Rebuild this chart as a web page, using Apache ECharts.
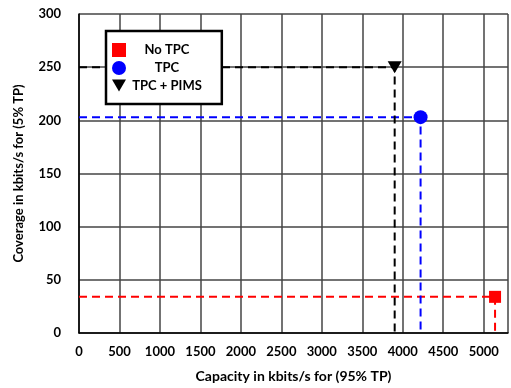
<!DOCTYPE html>
<html><head><meta charset="utf-8">
<script src="https://cdn.jsdelivr.net/npm/echarts@6/dist/echarts.min.js"></script>
<style>html,body{margin:0;padding:0;background:#fff}#c{width:511px;height:388px}</style>
</head><body><div id="c"></div>
<script>
var seriesNames = ['No TPC', 'TPC', 'TPC + PIMS'];
var capacity = [5140, 4220, 3900];
var coverage = [34, 203, 250];
var colors = ['#ff0000', '#0000ff', '#000000'];
var symbols = ['rect', 'circle', 'path://M0,0 L14,0 L7,12 Z'];
var symbolSizes = [12, 14, [14, 12]];
var xTicks = [0, 500, 1000, 1500, 2000, 2500, 3000, 3500, 4000, 4500, 5000];
var yTicks = [0, 50, 100, 150, 200, 250, 300];

var font = 'Lato';
var series = [];
for (var i = 0; i < seriesNames.length; i++) {
  series.push({
    type: 'line', name: seriesNames[i] + ' guide', silent: true, symbol: 'none',
    data: [[0, coverage[i]], [capacity[i], coverage[i]], [capacity[i], 0]],
    lineStyle: { color: colors[i], width: 2, type: [8, 5] }, z: 3
  });
}
for (var j = 0; j < seriesNames.length; j++) {
  series.push({
    type: 'scatter', name: seriesNames[j],
    data: [[capacity[j], coverage[j]]],
    symbol: symbols[j], symbolSize: symbolSizes[j],
    itemStyle: { color: colors[j], opacity: 1 }, z: 5
  });
}
var chart = echarts.init(document.getElementById('c'));
chart.setOption({
  animation: false,
  grid: { left: 79, top: 14, right: 1, bottom: 51 },
  legend: {
    data: seriesNames, orient: 'vertical', left: 106, top: 31,
    padding: [12, 20, 12, 6], itemGap: 4, itemWidth: 14, itemHeight: 14,
    backgroundColor: '#fff', borderColor: '#000', borderWidth: 2.5,
    formatter: '{a|{name}}',
    textStyle: { fontFamily: font, fontWeight: 'bold', fontSize: 13, color: '#000',
      rich: { a: { width: 72, align: 'center', fontFamily: font, fontWeight: 'bold', fontSize: 13 } } }
  },
  xAxis: {
    type: 'value', min: 0, max: 5300, interval: 500,
    name: 'Capacity in kbits/s for (95% TP)', nameLocation: 'middle', nameGap: 36,
    nameTextStyle: { fontFamily: font, fontWeight: 'bold', fontSize: 14, color: '#000' },
    axisLine: { show: true, lineStyle: { color: '#000', width: 1.5 } },
    axisTick: { show: false },
    axisLabel: { fontFamily: font, fontWeight: 'bold', fontSize: 13, color: '#000', margin: 12,
      formatter: function (v) { return xTicks.indexOf(v) >= 0 ? String(v) : ''; } },
    splitLine: { show: true, lineStyle: { color: '#444', width: 1.5 } }
  },
  yAxis: {
    type: 'value', min: 0, max: 300, interval: 50,
    name: 'Coverage in kbits/s for (5% TP)', nameLocation: 'middle', nameGap: 54,
    nameTextStyle: { fontFamily: font, fontWeight: 'bold', fontSize: 13, color: '#000' },
    axisLine: { show: true, lineStyle: { color: '#000', width: 1.5 } },
    axisTick: { show: false },
    axisLabel: { fontFamily: font, fontWeight: 'bold', fontSize: 13, color: '#000', margin: 18,
      formatter: function (v) { return yTicks.indexOf(v) >= 0 ? String(v) : ''; } },
    splitLine: { show: true, lineStyle: { color: '#444', width: 1.5 } }
  },
  series: series
});
</script></body></html>
